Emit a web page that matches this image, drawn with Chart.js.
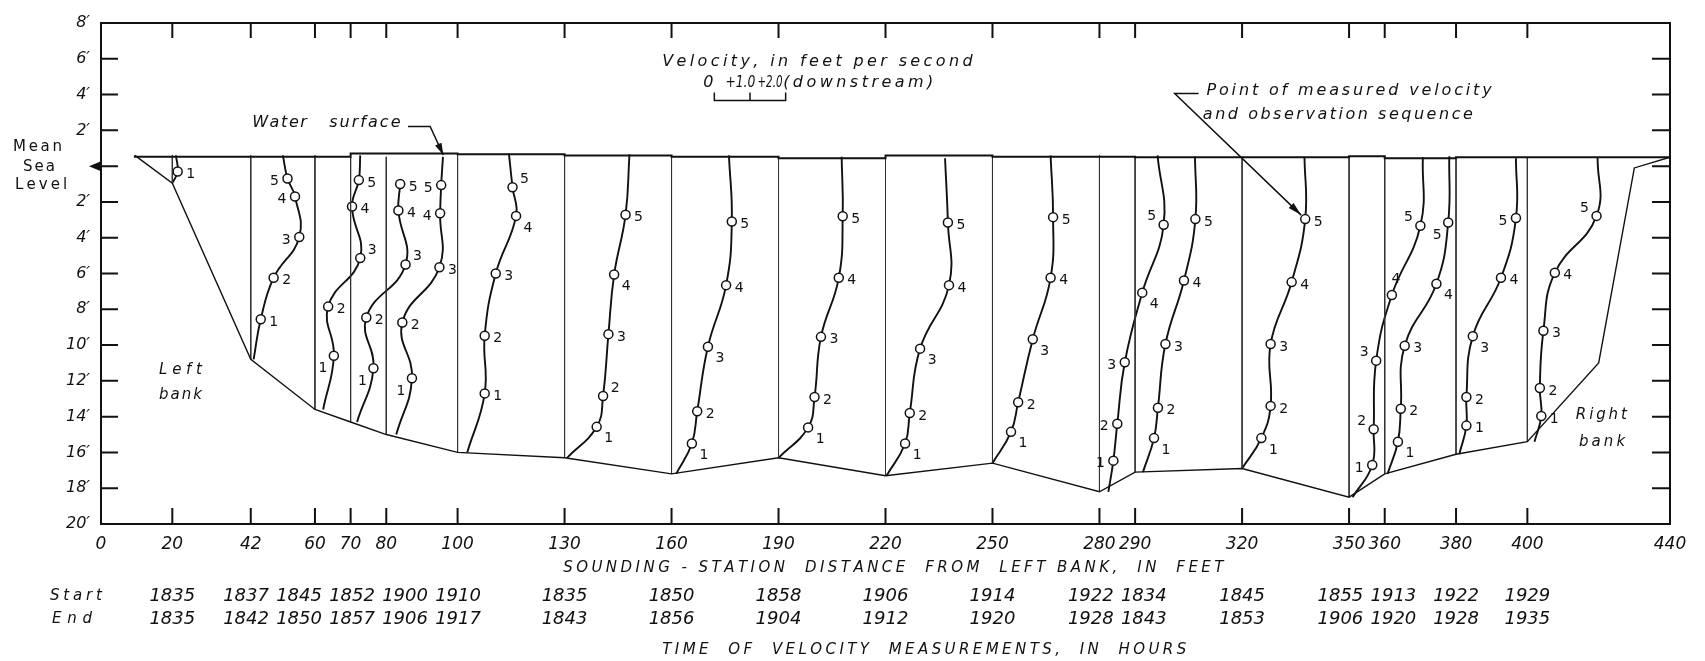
<!DOCTYPE html>
<html>
<head>
<meta charset="utf-8">
<script src="https://cdn.jsdelivr.net/npm/chart.js@4.4.1/dist/chart.umd.min.js"></script>
<style>
  html, body { margin: 0; padding: 0; background: #fff; }
</style>
</head>
<body>
<canvas id="c" width="1705" height="661"></canvas>
<script>
// sounding stations, feet from left bank
const stations = [20, 42, 60, 70, 80, 100, 130, 160, 190, 220, 250, 280, 290, 320, 350, 360, 380, 400];
const xTicks = [0, 20, 42, 60, 70, 80, 100, 130, 160, 190, 220, 250, 280, 290, 320, 350, 360, 380, 400, 440];
const yTicks = [-20, -18, -16, -14, -12, -10, -8, -6, -4, -2, 0, 2, 4, 6, 8];

// channel bed, elevation in feet relative to mean sea level
const bedX = [9.5, 20, 42, 60, 70, 80, 100, 130, 160, 190, 220, 250, 280, 290, 320, 350, 360, 380, 400, 420, 430, 440];
const bedY = [0.6, -0.95, -10.8, -13.6, -14.3, -15.0, -16.0, -16.3, -17.2, -16.3, -17.3, -16.6, -18.2, -17.1, -16.9, -18.5, -17.2, -16.1, -15.4, -11.0, -0.1, 0.5];

// water surface (held from each x to the next)
const waterX = [9.5, 70, 100, 130, 160, 190, 220, 250, 290, 350, 360, 380, 400, 440];
const waterY = [0.6, 0.52, 0.7, 0.66, 0.6, 0.52, 0.44, 0.6, 0.52, 0.5, 0.55, 0.44, 0.5, 0.5];

// measured velocity (ft/s) and depth (ft) for observations 1..5 at each station
const obsVel = [
  [0.15],
  [0.28, 0.64, 1.36, 1.24, 1.03],
  [0.53, 0.37, 1.27, 1.04, 1.23],
  [0.64, 0.44, 1.54, 1.34, 1.39],
  [0.72, 0.45, 1.49, 1.51, 1.54],
  [0.76, 0.76, 1.07, 1.64, 1.54],
  [0.90, 1.08, 1.23, 1.39, 1.71],
  [0.57, 0.72, 1.02, 1.53, 1.69],
  [0.83, 1.01, 1.19, 1.69, 1.80],
  [0.55, 0.68, 0.97, 1.78, 1.75],
  [0.52, 0.72, 1.13, 1.63, 1.70],
  [0.39, 0.50, 0.71, 1.20, 1.80],
  [0.53, 0.64, 0.85, 1.37, 1.69],
  [0.54, 0.80, 0.80, 1.39, 1.77],
  [0.65, 0.69, 0.76, 1.20, 2.00],
  [0.37, 0.45, 0.56, 1.45, 1.78],
  [0.29, 0.29, 0.47, 1.26, 1.68],
  [0.39, 0.35, 0.45, 0.77, 1.94]
];
const obsDepth = [
  [0.3],
  [8.56, 6.24, 3.96, 1.7, 0.69],
  [10.6, 7.85, 5.13, 2.26, 0.78],
  [11.3, 8.46, 5.5, 2.48, 1.0],
  [11.85, 8.74, 5.65, 2.63, 1.06],
  [12.7, 9.48, 6.0, 2.78, 1.18],
  [14.57, 12.85, 9.39, 6.06, 2.72],
  [15.5, 13.7, 10.09, 6.65, 3.09],
  [14.6, 12.9, 9.54, 6.24, 2.8],
  [15.5, 13.8, 10.2, 6.65, 3.15],
  [14.85, 13.2, 9.67, 6.24, 2.85],
  [16.46, 14.4, 10.96, 7.07, 3.28],
  [15.2, 13.5, 9.94, 6.39, 2.96],
  [15.2, 13.4, 9.94, 6.48, 2.96],
  [16.7, 14.7, 10.87, 7.2, 3.33],
  [15.4, 13.56, 10.04, 6.57, 3.15],
  [14.5, 12.9, 9.5, 6.24, 2.9],
  [13.96, 12.4, 9.2, 5.96, 2.78]
];
// velocity where each curve meets the surface and the bed
const surfVel = [0.10, 0.90, 1.27, null, 1.59, 1.44, 1.82, 1.61, 1.77, 1.67, 1.63, 1.63, 1.68, 1.75, 2.07, 1.81, 1.68, 1.97];
const bedVel = [0.0, 0.08, 0.23, 0.18, 0.28, 0.27, 0.07, 0.13, 0.0, 0.03, 0.0, 0.25, 0.22, 0.0, 0.1, 0.08, 0.09, 0.2];

// time of measurements, hours
const startTimes = [1835, 1837, 1845, 1852, 1900, 1910, 1835, 1850, 1858, 1906, 1914, 1922, 1834, 1845, 1855, 1913, 1922, 1929];
const endTimes = [1835, 1842, 1850, 1857, 1906, 1917, 1843, 1856, 1904, 1912, 1920, 1928, 1843, 1853, 1906, 1920, 1928, 1935];

// where the sequence number sits beside each point
const labelPos = [
  ['r'],
  ['r', 'r', 'l', 'l', 'l'],
  ['lb', 'r', 'ra', 'r', 'r'],
  ['lb', 'r', 'ra', 'r', 'r'],
  ['lb', 'r', 'r', 'l', 'l'],
  ['r', 'r', 'r', 'rb', 'ra'],
  ['rb', 'ra', 'r', 'rb', 'r'],
  ['rb', 'r', 'rb', 'r', 'r'],
  ['rb', 'r', 'r', 'r', 'r'],
  ['rb', 'r', 'rb', 'r', 'r'],
  ['rb', 'r', 'rb', 'r', 'r'],
  ['l', 'l', 'l', 'rb', 'la'],
  ['rb', 'r', 'r', 'r', 'r'],
  ['rb', 'r', 'r', 'r', 'r'],
  ['l', 'la', 'la', 'a', 'la'],
  ['rb', 'r', 'r', 'rb', 'lb'],
  ['r', 'r', 'rb', 'r', 'l'],
  ['r', 'r', 'r', 'r', 'la']
];

const VS = 10;          // plot feet per 1 ft/s of velocity
const INK = '#111';
const FONT = '"DejaVu Sans", sans-serif';
const OFF = { r: [13, 3], l: [-13, 3], ra: [12, -8], rb: [12, 12], lb: [-11, 13], la: [-12, -8], a: [4, -16] };

const levelAt = x => {
  let v = waterY[0];
  for (let i = 0; i < waterX.length; i++) if (waterX[i] <= x) v = waterY[i];
  return v;
};
const bedAt = s => bedY[bedX.indexOf(s)];

const stationLines = [];
stations.forEach(s => {
  stationLines.push({ x: s, y: levelAt(s) }, { x: s, y: bedAt(s) }, { x: s, y: null });
});

const profileSets = stations.map((s, i) => {
  const pts = [], rad = [];
  if (surfVel[i] !== null) { pts.push({ x: s + VS * surfVel[i], y: levelAt(s) }); rad.push(0); }
  for (let k = obsVel[i].length - 1; k >= 0; k--) {
    pts.push({ x: s + VS * obsVel[i][k], y: -obsDepth[i][k], obs: k + 1 });
    rad.push(4.5);
  }
  pts.push({ x: s + VS * bedVel[i], y: bedAt(s) }); rad.push(0);
  return {
    label: 'Station ' + s, station: i, data: pts, showLine: true,
    borderColor: INK, borderWidth: 1.9, tension: 0.45,
    pointRadius: rad, pointHoverRadius: rad,
    pointBackgroundColor: '#fff', pointBorderColor: INK, pointBorderWidth: 1.5
  };
});

// spread a text between x0 and x1; squeeze it if it is too wide
function spaced(ctx, text, x0, x1, y) {
  const w = ctx.measureText(text).width;
  ctx.textAlign = 'left';
  if (w > x1 - x0) {
    ctx.save();
    ctx.translate(x0, y);
    ctx.scale((x1 - x0) / w, 1);
    ctx.fillText(text, 0, 0);
    ctx.restore();
    return;
  }
  const gap = text.length > 1 ? ((x1 - x0) - w) / (text.length - 1) : 0;
  let x = x0;
  for (const ch of text) { ctx.fillText(ch, x, y); x += ctx.measureText(ch).width + gap; }
}

function arrowHead(ctx, from, to, len, half) {
  const a = Math.atan2(to[1] - from[1], to[0] - from[0]);
  ctx.beginPath();
  ctx.moveTo(to[0], to[1]);
  ctx.lineTo(to[0] - len * Math.cos(a) + half * Math.sin(a), to[1] - len * Math.sin(a) - half * Math.cos(a));
  ctx.lineTo(to[0] - len * Math.cos(a) - half * Math.sin(a), to[1] - len * Math.sin(a) + half * Math.cos(a));
  ctx.closePath();
  ctx.fill();
}

const decor = {
  id: 'decor',
  beforeDatasetsDraw(chart) {
    const { ctx, chartArea: a, scales: { x, y } } = chart;
    ctx.save();
    ctx.strokeStyle = INK;
    ctx.lineWidth = 2;
    ctx.strokeRect(a.left, a.top, a.right - a.left, a.bottom - a.top);
    ctx.beginPath();
    stations.forEach(s => {
      const px = x.getPixelForValue(s);
      ctx.moveTo(px, a.top); ctx.lineTo(px, a.top + 15);
      ctx.moveTo(px, a.bottom); ctx.lineTo(px, a.bottom - 16);
    });
    yTicks.slice(1, -1).forEach(v => {
      const py = y.getPixelForValue(v);
      ctx.moveTo(a.left, py); ctx.lineTo(a.left + 17, py);
      ctx.moveTo(a.right, py); ctx.lineTo(a.right - 18, py);
    });
    ctx.stroke();
    ctx.restore();
  },
  afterDatasetsDraw(chart) {
    const { ctx, chartArea: a, scales: { x, y } } = chart;
    const P = (xv, yv) => [x.getPixelForValue(xv), y.getPixelForValue(yv)];
    const X = xv => x.getPixelForValue(xv);
    ctx.save();
    ctx.fillStyle = INK;
    ctx.strokeStyle = INK;

    // observation sequence numbers
    ctx.font = '14px ' + FONT;
    ctx.textAlign = 'center';
    ctx.textBaseline = 'middle';
    chart.data.datasets.forEach((ds, di) => {
      if (ds.station === undefined) return;
      const meta = chart.getDatasetMeta(di);
      ds.data.forEach((p, j) => {
        if (!p.obs) return;
        const o = OFF[labelPos[ds.station][p.obs - 1]];
        ctx.fillText(String(p.obs), meta.data[j].x + o[0], meta.data[j].y + o[1]);
      });
    });

    // mean sea level marker
    const y0 = y.getPixelForValue(0);
    ctx.beginPath();
    ctx.moveTo(a.left - 12, y0); ctx.lineTo(a.left, y0 - 5); ctx.lineTo(a.left, y0 + 5);
    ctx.closePath(); ctx.fill();
    ctx.font = '15px ' + FONT;
    spaced(ctx, 'Mean', 13, 62, y0 - 19);
    spaced(ctx, 'Sea', 23, 55, y0 + 1);
    spaced(ctx, 'Level', 15, 67, y0 + 19);

    ctx.font = 'italic 16px ' + FONT;
    // water surface note
    let p = P(42.4, 2.4);
    spaced(ctx, 'Water', p[0], X(57.5), p[1]);
    spaced(ctx, 'surface', X(64), X(84), p[1]);
    ctx.lineWidth = 1.5;
    const w1 = P(86.1, 2.22), w2 = P(92.3, 2.22), w3 = P(96, 0.62);
    ctx.beginPath(); ctx.moveTo(w1[0], w1[1]); ctx.lineTo(w2[0], w2[1]); ctx.lineTo(w3[0], w3[1]); ctx.stroke();
    arrowHead(ctx, w2, w3, 12, 3.5);

    // velocity scale
    const vx = 172, vy = 3.67;
    p = P(157.4, 5.83);
    spaced(ctx, 'Velocity, in feet per second', p[0], X(243.8), p[1]);
    const b0 = P(vx, vy), b1 = P(vx + VS, vy), b2 = P(vx + 2 * VS, vy);
    ctx.beginPath();
    ctx.moveTo(b0[0], b0[1] - 8); ctx.lineTo(b0[0], b0[1]); ctx.lineTo(b2[0], b2[1]); ctx.lineTo(b2[0], b2[1] - 8);
    ctx.moveTo(b1[0], b1[1]); ctx.lineTo(b1[0], b1[1] - 8);
    ctx.stroke();
    const ty = y.getPixelForValue(4.67);
    ctx.font = 'italic 16px ' + FONT;
    spaced(ctx, '0', X(168.9), X(172.6), ty);
    spaced(ctx, '+1.0', X(175.1), X(183.5), ty);
    spaced(ctx, '+2.0', X(184.1), X(191.1), ty);
    spaced(ctx, '(downstream)', X(191.3), X(233.4), ty);

    // measured-point note
    p = P(310, 4.2);
    spaced(ctx, 'Point of measured velocity', p[0], X(390), p[1]);
    p = P(309, 2.86);
    spaced(ctx, 'and observation sequence', p[0], X(384.7), p[1]);
    const t320 = stations.indexOf(320);
    const k5 = obsVel[t320].length - 1;
    const tip = P(320 + VS * obsVel[t320][k5], -obsDepth[t320][k5]);
    const l0 = P(301.1, 4.06), l1 = P(307.8, 4.06);
    const tipA = [tip[0] - 4, tip[1] - 4];
    ctx.beginPath(); ctx.moveTo(l1[0], l1[1]); ctx.lineTo(l0[0], l0[1]); ctx.lineTo(tipA[0], tipA[1]); ctx.stroke();
    arrowHead(ctx, l0, tipA, 14, 3.5);

    // bank names
    ctx.font = 'italic 15px ' + FONT;
    p = P(16.3, -11.4); spaced(ctx, 'Left', p[0], X(28.3), p[1]);
    p = P(16.3, -12.8); spaced(ctx, 'bank', p[0], X(28.3), p[1]);
    p = P(413.6, -13.9); spaced(ctx, 'Right', p[0], X(427.9), p[1]);
    p = P(414.5, -15.4); spaced(ctx, 'bank', p[0], X(427.4), p[1]);

    // titles below the axis
    ctx.font = 'italic 15px ' + FONT;
    spaced(ctx, 'SOUNDING - STATION  DISTANCE  FROM  LEFT BANK,  IN  FEET', X(129.6), X(313.7), a.bottom + 44);
    spaced(ctx, 'TIME  OF  VELOCITY  MEASUREMENTS,  IN  HOURS', X(157.4), X(304.2), a.bottom + 126);

    // start / end times under each station, pushed apart where crowded
    const cols = stations.map(s => x.getPixelForValue(s));
    for (let it = 0; it < 80; it++) {
      for (let i = 1; i < cols.length; i++) {
        const d = cols[i] - cols[i - 1];
        if (d < 53) { const m = (53 - d) / 2; cols[i - 1] -= m; cols[i] += m; }
      }
    }
    ctx.font = 'italic 15px ' + FONT;
    spaced(ctx, 'Start', 50, 102, a.bottom + 72);
    spaced(ctx, 'End', 52, 92, a.bottom + 95);
    ctx.font = 'italic 18px ' + FONT;
    ctx.textAlign = 'center';
    cols.forEach((cx, i) => {
      ctx.fillText(String(startTimes[i]), cx, a.bottom + 72);
      ctx.fillText(String(endTimes[i]), cx, a.bottom + 95);
    });
    ctx.restore();
  }
};

Chart.defaults.font.family = FONT;
Chart.defaults.color = INK;

new Chart(document.getElementById('c'), {
  type: 'scatter',
  data: {
    datasets: [
      {
        label: 'Water surface',
        data: waterX.map((v, i) => ({ x: v, y: waterY[i] })),
        showLine: true, stepped: 'after', borderColor: INK, borderWidth: 2, pointRadius: 0
      },
      {
        label: 'Bed',
        data: bedX.map((v, i) => ({ x: v, y: bedY[i] })),
        showLine: true, borderColor: INK, borderWidth: 1.4, pointRadius: 0
      },
      {
        label: 'Stations',
        data: stationLines,
        showLine: true, spanGaps: false, borderColor: '#333', borderWidth: 1, pointRadius: 0
      },
      ...profileSets
    ]
  },
  options: {
    responsive: false,
    animation: false,
    events: [],
    layout: { padding: { top: 23, right: 35, left: 0, bottom: 0 } },
    plugins: { legend: { display: false }, tooltip: { enabled: false } },
    scales: {
      x: {
        type: 'linear', min: 0, max: 440,
        afterBuildTicks: s => { s.ticks = xTicks.map(v => ({ value: v })); },
        afterFit: s => { s.height = 137; },
        grid: { display: false, drawTicks: false },
        border: { display: false },
        ticks: { autoSkip: false, maxRotation: 0, padding: 10, color: INK, font: { style: 'italic', size: 17 }, callback: v => String(v) }
      },
      y: {
        type: 'linear', min: -20, max: 8,
        afterBuildTicks: s => { s.ticks = yTicks.map(v => ({ value: v })); },
        afterFit: s => { s.width = 101; },
        grid: { display: false, drawTicks: false },
        border: { display: false },
        ticks: { padding: 11, color: INK, font: { style: 'italic', size: 16 }, callback: v => v === 0 ? '' : Math.abs(v) + '\u2032' }
      }
    }
  },
  plugins: [decor]
});
</script>
</body>
</html>
